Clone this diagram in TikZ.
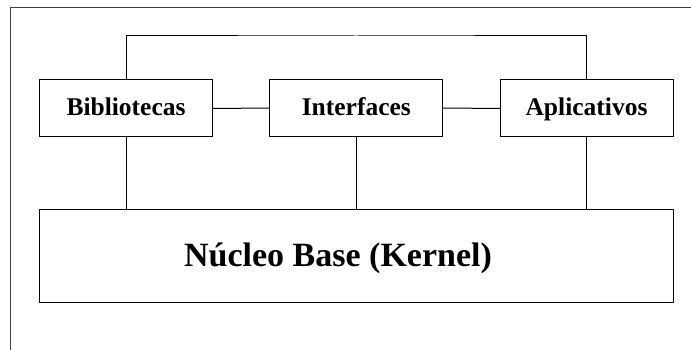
\documentclass[tikz,border=0pt]{standalone}
\usepackage{fontspec}
\setmainfont{Liberation Serif}
\begin{document}
\begin{tikzpicture}[x=1pt,y=-1pt,
  frameline/.style={line width=1pt,draw=black!75},
  link/.style={line width=1pt,draw=black},
  modbox/.style={draw=black,line width=1pt,rectangle,inner sep=0pt,outer sep=0pt,
    minimum width=173pt,minimum height=57pt,text height=18pt,text depth=3pt,
    font=\fontsize{25.5}{30}\selectfont\bfseries},
  kernbox/.style={draw=black,line width=1pt,rectangle,inner sep=0pt,outer sep=0pt,
    minimum width=634pt,minimum height=93.5pt},
  kerntext/.style={font=\fontsize{34}{40}\selectfont\bfseries,inner sep=0pt,anchor=base}]
  \useasboundingbox (0,0) rectangle (691,350);
  % outer page frame (top and left edges visible)
  \draw[frameline] (10.5,352) -- (10.5,7.5) -- (693,7.5);
  % modules
  \node[modbox] (bib) at (126,108.5) {Bibliotecas};
  \node[modbox] (inf) at (356.3,108) {Interfaces};
  \node[modbox] (apl) at (586.5,108.5) {Aplicativos};
  % kernel
  \node[kernbox] (ker) at (356.4,256) {};
  \node[kerntext] (kt) at (338,266) {Núcleo Base (Kernel)};
  % connectors
  \coordinate (top) at (356,36);
  \draw[link] (bib.north) |- (top) -| (apl.north);
  \draw[link] (bib.east) -- (inf.west);
  \draw[link] (inf.east) -- (apl.west);
  \draw[link] (bib.south) -- (bib.south |- ker.north);
  \draw[link] (inf.south) -- (inf.south |- ker.north);
  \draw[link] (apl.south) -- (apl.south |- ker.north);
\end{tikzpicture}
\end{document}
